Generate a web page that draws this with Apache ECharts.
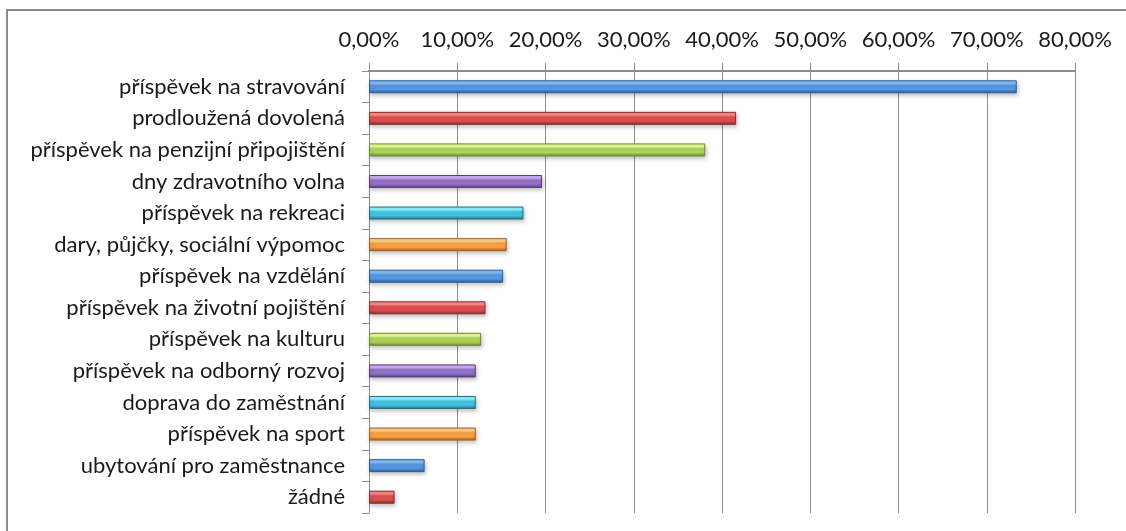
<!DOCTYPE html>
<html>
<head>
<meta charset="utf-8">
<script src="https://cdn.jsdelivr.net/npm/echarts@6/dist/echarts.min.js"></script>
<style>
html,body{margin:0;padding:0;background:#fff;}
#chart{width:1126px;height:531px;}
</style>
</head>
<body>
<div id="chart"></div>
<script>
var categories = [
  "příspěvek na stravování",
  "prodloužená dovolená",
  "příspěvek na penzijní připojištění",
  "dny zdravotního volna",
  "příspěvek na rekreaci",
  "dary, půjčky, sociální výpomoc",
  "příspěvek na vzdělání",
  "příspěvek na životní pojištění",
  "příspěvek na kulturu",
  "příspěvek na odborný rozvoj",
  "doprava do zaměstnání",
  "příspěvek na sport",
  "ubytování pro zaměstnance",
  "žádné"
];
var values = [73.4, 41.6, 38.1, 19.6, 17.5, 15.6, 15.2, 13.2, 12.7, 12.1, 12.1, 12.1, 6.3, 2.9];
var tickValues = [0, 10, 20, 30, 40, 50, 60, 70, 80];

var palette = [
  ["#86c0f6", "#5596e0", "#2d5d98"],
  ["#ff8a8a", "#d95050", "#8c2b2b"],
  ["#e6ff98", "#aed15a", "#6c8c30"],
  ["#cfadf5", "#9172c6", "#573c80"],
  ["#8cf4ff", "#43c2df", "#276f86"],
  ["#ffd28a", "#f8a043", "#ad5e1c"]
];
function grad(c) {
  return new echarts.graphic.LinearGradient(0, 0, 0, 1, [
    {offset: 0, color: c[0]},
    {offset: 0.25, color: c[0]},
    {offset: 0.4, color: c[1]},
    {offset: 0.7, color: c[1]},
    {offset: 1, color: c[2]}
  ]);
}
var data = values.map(function (v, i) {
  var c = palette[i % palette.length];
  return {
    value: v,
    itemStyle: {
      color: grad(c),
      borderColor: c[2],
      borderWidth: 1,
      shadowColor: "rgba(0,0,0,0.25)",
      shadowBlur: 4,
      shadowOffsetX: 1,
      shadowOffsetY: 2
    }
  };
});

var chart = echarts.init(document.getElementById('chart'), null, {renderer: 'canvas'});
chart.setOption({
  animation: false,
  backgroundColor: "#ffffff",
  graphic: [{
    type: 'rect',
    shape: {x: 7, y: 10, width: 1300, height: 700},
    style: {fill: 'none', stroke: '#8a8a8a', lineWidth: 2},
    silent: true
  }],
  grid: {left: 369, right: 51, top: 71, bottom: 18, containLabel: false},
  xAxis: {
    type: 'value',
    position: 'top',
    min: 0,
    max: 80,
    interval: 10,
    axisLine: {show: true, lineStyle: {color: '#8c8c8c', width: 2}},
    axisTick: {show: true, length: 8, lineStyle: {color: '#8c8c8c'}},
    splitLine: {show: true, lineStyle: {color: '#8c8c8c', width: 1}},
    axisLabel: {
      fontFamily: 'Lato',
      fontSize: 22,
      color: '#1a1a1a',
      margin: 20,
      formatter: function (v) {
        return tickValues.indexOf(v) >= 0 ? v.toFixed(2).replace('.', ',') + '%' : '';
      }
    }
  },
  yAxis: {
    type: 'category',
    data: categories,
    inverse: true,
    axisLine: {show: true, lineStyle: {color: '#8c8c8c', width: 1}},
    axisTick: {show: true, length: 7, lineStyle: {color: '#8c8c8c'}},
    axisLabel: {
      fontFamily: 'Lato',
      fontSize: 22,
      color: '#1a1a1a',
      margin: 24
    }
  },
  series: [{
    type: 'bar',
    data: data,
    barWidth: 13,
    silent: true
  }]
});
</script>
</body>
</html>
